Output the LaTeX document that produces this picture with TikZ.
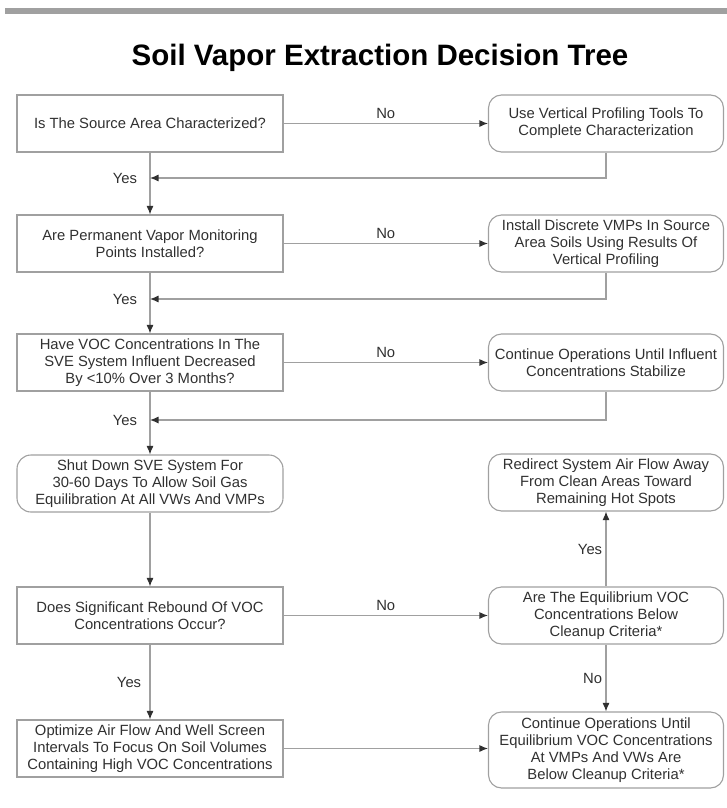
\documentclass[tikz,border=0pt]{standalone}
\usepackage{fontspec}
\setmainfont{Liberation Sans}
\usetikzlibrary{arrows.meta}
\definecolor{boxgray}{HTML}{A0A0A0}
\definecolor{txtgray}{HTML}{303030}

\begin{document}
\begin{tikzpicture}[x=1pt,y=-1pt,>={Latex[length=8.5pt,width=7pt,color=txtgray]},
		font=\fontsize{14.8}{17}\selectfont,
		test node/.style={rectangle,draw=boxgray,line width=1.1pt,minimum width=266pt,minimum height=57pt,align=center,text=txtgray,inner sep=2pt},
		act node/.style={test node,rounded corners=13pt,minimum width=235pt},
		flow/.style={draw=boxgray,line width=1.1pt,->},
		lbl/.style={text=txtgray}]
		\useasboundingbox (0,0) rectangle (727,808);
		\fill[boxgray] (5,8) rectangle (727,14);
		\node[font=\fontsize{29.5}{33}\selectfont\bfseries] (title) at (380,58) {Soil Vapor Extraction Decision Tree};
		\node[test node] (q1) at (150,123.5) {Is The Source Area Characterized?};
		\node[test node] (q2) at (150,243.5) {Are Permanent Vapor Monitoring\\Points Installed?};
		\node[test node] (q3) at (150,362.5) {Have VOC Concentrations In The\\SVE System Influent Decreased\\By <10\% Over 3 Months?};
		\node[test node,rounded corners=14pt] (q4) at (150,483.5) {Shut Down SVE System For\\30-60 Days To Allow Soil Gas\\Equilibration At All VWs And VMPs};
		\node[test node] (q5) at (150,615.5) {Does Significant Rebound Of VOC\\Concentrations Occur?};
		\node[test node] (q6) at (150,748.5) {Optimize Air Flow And Well Screen\\Intervals To Focus On Soil Volumes\\Containing High VOC Concentrations};
		\node[act node] (r1) at (606,123.5) {Use Vertical Profiling Tools To\\Complete Characterization};
		\node[act node] (r2) at (606,243.5) {Install Discrete VMPs In Source\\Area Soils Using Results Of\\Vertical Profiling};
		\node[act node] (r3) at (606,362.5) {Continue Operations Until Influent\\Concentrations Stabilize};
		\node[act node] (r4) at (606,482.5) {Redirect System Air Flow Away\\From Clean Areas Toward\\Remaining Hot Spots};
		\node[act node] (r5) at (606,615.5) {Are The Equilibrium VOC\\Concentrations Below\\Cleanup Criteria*};
		\node[act node,minimum height=76pt] (r6) at (606,750) {Continue Operations Until\\Equilibrium VOC Concentrations\\At VMPs And VWs Are\\Below Cleanup Criteria*};
		\coordinate (j1) at (150,178);
		\coordinate (j2) at (150,299);
		\coordinate (j3) at (150,420);
		\path[every node/.style={lbl}]
		(q1) edge[flow] node [above=1pt] {No} (r1)
		(q2) edge[flow] node [above=1pt] {No} (r2)
		(q3) edge[flow] node [above=1pt] {No} (r3)
		(q5) edge[flow] node [above=1pt] {No} (r5)
		(q1) edge[flow] (q2)
		(q2) edge[flow] (q3)
		(q3) edge[flow] (q4)
		(q4) edge[flow] (q5)
		(q5) edge[flow] node [left=5pt] {Yes} (q6)
		(r5) edge[flow] node [left] {Yes} (r4)
		(r5) edge[flow] node [left] {No} (r6);
		\draw[flow] (q6.east) -- (q6.east -| r6.west);
		\draw[flow] (r1.south) |- (j1) node[lbl,left=9pt] {Yes};
		\draw[flow] (r2.south) |- (j2) node[lbl,left=9pt] {Yes};
		\draw[flow] (r3.south) |- (j3) node[lbl,left=9pt] {Yes};
\end{tikzpicture}
\end{document}
